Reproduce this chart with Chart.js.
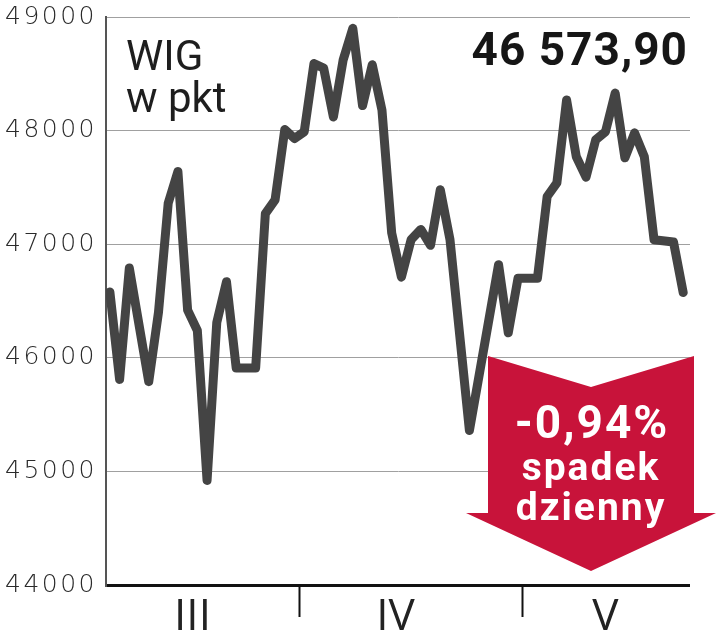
<!DOCTYPE html>
<html>
<head>
<meta charset="utf-8">
<script src="https://cdn.jsdelivr.net/npm/chart.js@4/dist/chart.umd.min.js"></script>
<style>
  html, body { margin: 0; padding: 0; background: #ffffff; }
  #wrap { width: 716px; height: 640px; position: relative; }
</style>
</head>
<body>
<div id="wrap"><canvas id="c" width="716" height="640"></canvas></div>
<script>
// ---- data ----
const days = [0,1,2,4,5,6,7,8,9,10,11,12,13,15,16,17,18,19,20,21,22,23,24,25,26,27,28,29,30,31,32,33,34,35,37,40,41,42,44,45,46,47,48,49,50,51,52,53,54,55,56,58,59];
const wigValues = [46580,45810,46790,45790,46400,47360,47640,46420,46240,44920,46310,46670,45910,45910,47270,47390,48010,47930,47990,48590,48550,48120,48620,48900,48220,48580,48180,47100,46710,47040,47130,46990,47480,47040,45360,46820,46220,46700,46700,47420,47540,48270,47770,47590,47920,47990,48330,47760,47980,47770,47040,47020,46574];
const yTicks = [44000,45000,46000,47000,48000,49000];
const months = ['III','IV','V'];
const monthLabelDay = [8.5, 29.4, 51];
const monthBoundaryDay = [19.5, 42.4];
const titleLines = ['WIG','w pkt'];
const lastValueText = '46 573,90';
const changeLines = ['-0,94%','spadek','dzienny'];

const points = days.map((d,i) => ({x: d, y: wigValues[i]}));

const decor = {
  id: 'decor',
  beforeDraw(chart) {
    chart.ctx.letterSpacing = '2.5px';
  },
  afterDraw(chart) {
    const ctx = chart.ctx;
    const xs = chart.scales.x, ys = chart.scales.y;
    const area = chart.chartArea;
    ctx.save();
    ctx.letterSpacing = '0px';
    // month separators
    ctx.strokeStyle = '#111';
    ctx.lineWidth = 2;
    monthBoundaryDay.forEach(d => {
      const x = Math.round(xs.getPixelForValue(d)) + 0.5;
      ctx.beginPath();
      ctx.moveTo(x, area.bottom);
      ctx.lineTo(x, area.bottom + 32);
      ctx.stroke();
    });
    // month labels
    ctx.fillStyle = '#222';
    ctx.font = '400 44px "Open Sans"';
    ctx.textAlign = 'center';
    ctx.textBaseline = 'alphabetic';
    months.forEach((m,i) => {
      ctx.fillText(m, xs.getPixelForValue(monthLabelDay[i]), 630);
    });
    // title
    ctx.textAlign = 'left';
    ctx.fillStyle = '#1e1e1e';
    ctx.font = '400 42px Roboto';
    ctx.fillText(titleLines[0], area.left + 20, 70);
    ctx.fillText(titleLines[1], area.left + 20, 112);
    // last value
    ctx.textAlign = 'right';
    ctx.font = '700 46px Roboto';
    ctx.letterSpacing = '1px';
    ctx.fillStyle = '#161616';
    ctx.fillText(lastValueText, 688, 65);
    // red arrow
    ctx.letterSpacing = '0px';
    ctx.fillStyle = '#c8133a';
    ctx.beginPath();
    ctx.moveTo(488, 356);
    ctx.lineTo(591, 387);
    ctx.lineTo(694, 356);
    ctx.lineTo(694, 513);
    ctx.lineTo(716, 513);
    ctx.lineTo(591, 571);
    ctx.lineTo(466, 513);
    ctx.lineTo(488, 513);
    ctx.closePath();
    ctx.fill();
    ctx.fillStyle = '#ffffff';
    ctx.textAlign = 'center';
    ctx.font = '700 46px Roboto';
    ctx.letterSpacing = '2px';
    ctx.fillText(changeLines[0], 592, 438);
    ctx.font = '700 39px Roboto';
    ctx.letterSpacing = '2px';
    ctx.fillText(changeLines[1], 591, 480);
    ctx.fillText(changeLines[2], 591, 520);
    ctx.restore();
  }
};

new Chart(document.getElementById('c'), {
  type: 'line',
  data: {
    datasets: [{
      data: points,
      borderColor: '#444444',
      borderWidth: 9,
      pointRadius: 0,
      tension: 0,
      borderJoinStyle: 'round',
      borderCapStyle: 'round',
      fill: false
    }]
  },
  options: {
    responsive: false,
    animation: false,
    devicePixelRatio: 1,
    layout: { padding: { top: 17, right: 26, bottom: 55, left: 0 } },
    plugins: { legend: { display: false }, tooltip: { enabled: false } },
    scales: {
      x: {
        type: 'linear',
        min: -0.4,
        max: 59.7,
        display: false
      },
      y: {
        min: 44000,
        max: 49000,
        afterBuildTicks(scale) { scale.ticks = yTicks.map(v => ({value: v})); },
        afterFit(scale) { scale.width = 106; scale.paddingTop = 0; scale.paddingBottom = 0; },
        ticks: {
          padding: 9,
          color: '#2a2a2a',
          font: { family: 'DejaVu Sans', weight: 200, size: 25, lineHeight: 0.8 },
          callback: v => String(v)
        },
        grid: {
          drawTicks: false,
          color: c => c.tick && c.tick.value === 44000 ? '#111' : '#a0a0a0',
          lineWidth: c => c.tick && c.tick.value === 44000 ? 3 : 1
        },
        border: { display: true, color: '#555', width: 2 }
      }
    }
  },
  plugins: [decor]
});
</script>
</body>
</html>
